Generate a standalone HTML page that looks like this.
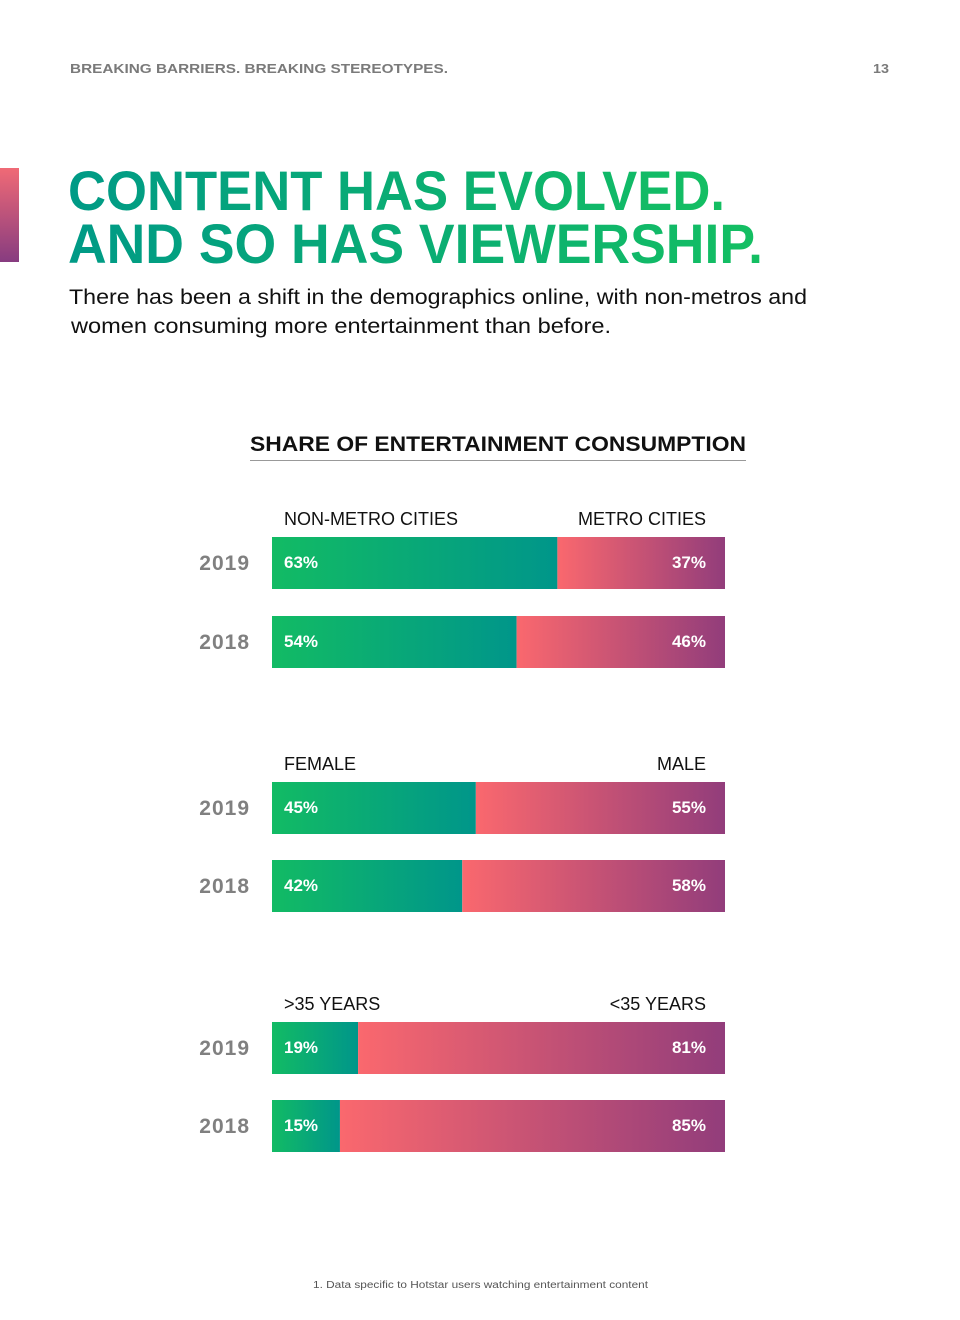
<!DOCTYPE html>
<html><head><meta charset="utf-8"><style>
html,body{margin:0;padding:0;background:#fff;}
svg{display:block;font-family:"Liberation Sans",sans-serif;}
</style></head><body>
<svg id="page" width="960" height="1320" viewBox="0 0 960 1320">
<defs>
<linearGradient id="gTitle" x1="0" x2="1" y1="0" y2="0"><stop offset="0" stop-color="#009a86"/><stop offset="1" stop-color="#14bf62"/></linearGradient>
<linearGradient id="gSide" x1="0" x2="0" y1="0" y2="1"><stop offset="0" stop-color="#f06a76"/><stop offset="1" stop-color="#873c80"/></linearGradient>
<linearGradient id="gGreen" x1="0" x2="1" y1="0" y2="0"><stop offset="0" stop-color="#12bb64"/><stop offset="1" stop-color="#00968a"/></linearGradient>
<linearGradient id="gRed" x1="0" x2="1" y1="0" y2="0"><stop offset="0" stop-color="#fa686e"/><stop offset="1" stop-color="#923d7b"/></linearGradient>
</defs>
<text x="70" y="73" font-size="13" font-weight="bold" fill="#7a7a7a" textLength="378" lengthAdjust="spacingAndGlyphs">BREAKING BARRIERS. BREAKING STEREOTYPES.</text>
<text x="873" y="73" font-size="13" font-weight="bold" fill="#7a7a7a" textLength="16" lengthAdjust="spacingAndGlyphs">13</text>
<rect x="0" y="168" width="19" height="94" fill="url(#gSide)"/>
<text x="68" y="210" font-size="56" font-weight="bold" fill="url(#gTitle)" textLength="657" lengthAdjust="spacingAndGlyphs">CONTENT HAS EVOLVED.</text>
<text x="68" y="263" font-size="56" font-weight="bold" fill="url(#gTitle)" textLength="695" lengthAdjust="spacingAndGlyphs">AND SO HAS VIEWERSHIP.</text>
<text x="69" y="304" font-size="21" fill="#111" textLength="738" lengthAdjust="spacingAndGlyphs">There has been a shift in the demographics online, with non-metros and</text>
<text x="71" y="333" font-size="21" fill="#111" textLength="540" lengthAdjust="spacingAndGlyphs">women consuming more entertainment than before.</text>
<text x="250" y="451" font-size="21" font-weight="bold" fill="#111" textLength="496" lengthAdjust="spacingAndGlyphs">SHARE OF ENTERTAINMENT CONSUMPTION</text>
<rect x="250" y="460" width="496" height="1" fill="#999"/>
<g id="chart"></g>
<text x="313" y="1288" font-size="10" fill="#555" textLength="335" lengthAdjust="spacingAndGlyphs">1.  Data specific to Hotstar users watching entertainment content</text>
</svg>
<script>
const groupLeftLabels = ["NON-METRO CITIES", "FEMALE", ">35 YEARS"];
const groupRightLabels = ["METRO CITIES", "MALE", "<35 YEARS"];
const years = ["2019", "2018"];
const leftValues = [[63, 54], [45, 42], [19, 15]];
const NS = "http://www.w3.org/2000/svg";
const chart = document.getElementById("chart");
const X0 = 272, W = 453, H = 52;
const groupTops = [537, 782, 1022];
const rowGap = [0, 79, 78];
function xScale(v){ return X0 + W * v / 100; }
function mk(tag, attrs, txt){
  const e = document.createElementNS(NS, tag);
  for (const k in attrs) e.setAttribute(k, attrs[k]);
  if (txt !== undefined) e.textContent = txt;
  chart.appendChild(e);
  return e;
}
leftValues.forEach((vals, g) => {
  const top = groupTops[g];
  const gap = rowGap[g] || 78;
  const l1 = mk("text", {x: 284, y: top - 12, "font-size": 18, fill: "#111"}, groupLeftLabels[g]);
  
  
  const l2 = mk("text", {x: 706, y: top - 12, "font-size": 18, fill: "#111", "text-anchor": "end"}, groupRightLabels[g]);
  
  
  vals.forEach((v, r) => {
    const y = top + r * (g === 0 ? 79 : 78);
    const xm = xScale(v);
    const yl = mk("text", {x: 250, y: y + 33, "font-size": 21, "font-weight": "bold", fill: "#808080", "text-anchor": "end", "letter-spacing": "1"}, years[r]);
    
    
    const b1 = mk("rect", {x: X0, y: y, width: xm - X0, height: H, fill: "url(#gGreen)"});
    
    
    const b2 = mk("rect", {x: xm, y: y, width: X0 + W - xm, height: H, fill: "url(#gRed)"});
    
    
    const t1 = mk("text", {x: 284, y: y + 31, "font-size": 17, "font-weight": "bold", fill: "#fff"}, v + "%");
    
    
    const t2 = mk("text", {x: 706, y: y + 31, "font-size": 17, "font-weight": "bold", fill: "#fff", "text-anchor": "end"}, (100 - v) + "%");
    
    
  });
});
</script>
</body></html>
